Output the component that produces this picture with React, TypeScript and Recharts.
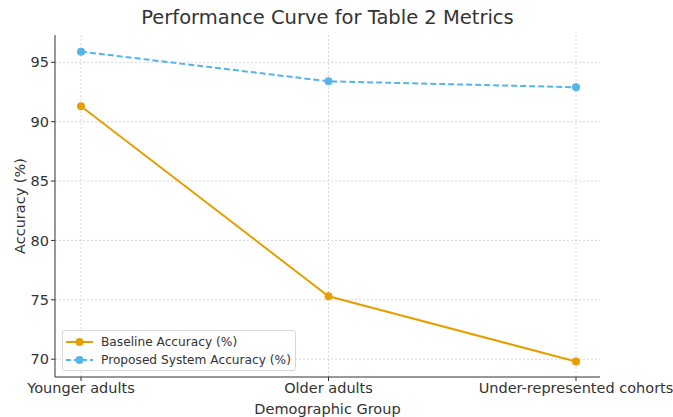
import React from 'react';
import { LineChart, Line, XAxis, YAxis, CartesianGrid, Legend, Label } from 'recharts';

const groups = ['Younger adults', 'Older adults', 'Under-represented cohorts'];
const baselineAccuracy = [91.3, 75.3, 69.8];
const proposedAccuracy = [95.9, 93.4, 92.9];
const yTicks = [70, 75, 80, 85, 90, 95];

const data = groups.map((g, i) => ({
  group: g,
  baseline: baselineAccuracy[i],
  proposed: proposedAccuracy[i],
}));

const FONT = '"DejaVu Sans", sans-serif';
const ORANGE = '#E69F00';
const BLUE = '#56B4E9';

// legend sits inside the plot, lower left, like matplotlib's "best"
const LegendBox = () => (
  <div
    style={{
      position: 'absolute',
      left: 62,
      top: 330,
      width: 234,
      height: 41,
      border: '1px solid #d8d8d8',
      borderRadius: 3,
      background: 'rgba(255,255,255,0.8)',
      fontFamily: FONT,
      fontSize: 12.2,
      color: '#333',
      boxSizing: 'border-box',
      padding: '2px 0 0 3px',
    }}
  >
    {[
      { label: 'Baseline Accuracy (%)', color: ORANGE, dash: undefined },
      { label: 'Proposed System Accuracy (%)', color: BLUE, dash: '5 3' },
    ].map((it) => (
      <div key={it.label} style={{ display: 'flex', alignItems: 'center', height: 18 }}>
        <svg width={28} height={12} style={{ marginRight: 7 }}>
          <line x1={0} y1={6} x2={27} y2={6} stroke={it.color} strokeWidth={2} strokeDasharray={it.dash} />
          <circle cx={13.5} cy={6} r={4} fill={it.color} />
        </svg>
        <span>{it.label}</span>
      </div>
    ))}
  </div>
);

const App: React.FC = () => {
  return (
    <div style={{ position: 'absolute', left: 0, top: 0, width: 673, height: 417, background: '#fff' }}>
      <div
        style={{
          position: 'absolute',
          left: 0,
          width: 655,
          top: 6,
          textAlign: 'center',
          fontFamily: FONT,
          fontSize: 19.5,
          color: '#333',
        }}
      >
        Performance Curve for Table 2 Metrics
      </div>
      <LineChart
        width={673}
        height={417}
        data={data}
        margin={{ top: 35, right: 73, left: 0, bottom: 0 }}
        style={{ fontFamily: FONT }}
      >
        <CartesianGrid
          stroke="#d6d6d6"
          strokeDasharray="2 2"
          horizontalValues={yTicks}
          verticalValues={groups}
        />
        <XAxis
          dataKey="group"
          scale="point"
          padding={{ left: 26, right: 24 }}
          height={40}
          tickSize={4}
          axisLine={{ stroke: '#333' }}
          tickLine={{ stroke: '#333' }}
          tick={{ fontSize: 14.5, fill: '#333' }}
          interval={0}
        >
          <Label value="Demographic Group" position="insideBottom" offset={3} style={{ fontSize: 14.5, fill: '#333' }} />
        </XAxis>
        <YAxis
          width={55}
          domain={[68.5, 97.3]}
          ticks={yTicks}
          allowDataOverflow
          tickSize={4}
          axisLine={{ stroke: '#333' }}
          tickLine={{ stroke: '#333' }}
          tick={{ fontSize: 14.5, fill: '#333' }}
        >
          <Label
            value="Accuracy (%)"
            angle={-90}
            position="insideLeft"
            offset={20}
            style={{ fontSize: 14.5, fill: '#333', textAnchor: 'middle' }}
          />
        </YAxis>
        <Legend content={() => null} />
        <Line
          type="linear"
          dataKey="baseline"
          name="Baseline Accuracy (%)"
          stroke={ORANGE}
          strokeWidth={2}
          dot={{ r: 4, fill: ORANGE, stroke: ORANGE, strokeWidth: 0 }}
          isAnimationActive={false}
        />
        <Line
          type="linear"
          dataKey="proposed"
          name="Proposed System Accuracy (%)"
          stroke={BLUE}
          strokeWidth={2}
          strokeDasharray="6 3"
          dot={{ r: 4, fill: BLUE, stroke: BLUE, strokeWidth: 0, strokeDasharray: '' }}
          isAnimationActive={false}
        />
      </LineChart>
      <LegendBox />
    </div>
  );
};

export default App;
